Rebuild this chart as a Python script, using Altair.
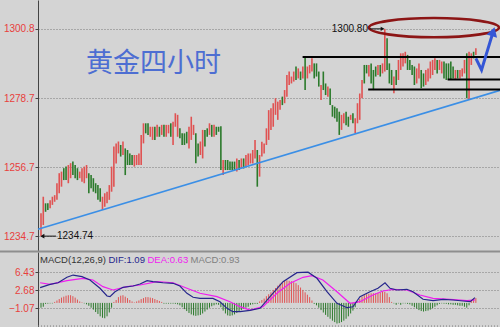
import altair as alt
import pandas as pd

# ---------------- data ----------------
bar_high = [1242.0, 1247.3, 1245.2, 1245.2, 1246.2, 1247.3, 1247.8, 1251.6, 1254.8, 1255.3,
            1256.4, 1256.9, 1257.4, 1258.0, 1258.5, 1257.4, 1256.4, 1255.3, 1256.4, 1256.9,
            1257.4, 1254.8, 1254.2, 1253.2, 1251.6, 1251.0, 1250.0, 1247.3, 1248.4, 1248.9,
            1251.0, 1256.9, 1263.3, 1264.3, 1264.9, 1263.8, 1264.9, 1262.7, 1262.2, 1261.1,
            1260.6, 1260.6, 1260.6, 1261.1, 1267.0, 1270.7, 1270.7, 1270.7, 1269.6, 1269.6,
            1269.6, 1270.2, 1269.6, 1270.2, 1270.2, 1270.2, 1270.2, 1270.7, 1271.2, 1273.9,
            1273.4, 1269.1, 1267.5, 1267.5, 1268.0, 1269.6, 1272.8, 1270.2, 1267.5, 1264.3,
            1264.9, 1268.6, 1268.6, 1269.1, 1270.7, 1270.2, 1270.2, 1269.6, 1269.6, 1269.8,
            1259.0, 1259.0, 1259.0, 1258.5, 1258.5, 1258.5, 1259.5, 1259.0, 1259.5, 1259.5,
            1260.6, 1261.1, 1261.1, 1262.2, 1265.4, 1262.2, 1260.6, 1264.8, 1264.3, 1269.1,
            1274.9, 1275.5, 1277.1, 1278.7, 1277.6, 1278.1, 1279.2, 1281.3, 1286.1, 1287.2,
            1285.6, 1287.2, 1288.8, 1288.2, 1287.2, 1288.8, 1291.9, 1288.8, 1289.3, 1291.4,
            1289.8, 1289.8, 1287.2, 1282.9, 1287.2, 1283.4, 1282.4, 1281.8, 1276.5, 1276.0,
            1275.5, 1274.4, 1273.4, 1273.9, 1274.4, 1272.8, 1273.4, 1273.9, 1272.3, 1277.1,
            1280.2, 1284.5, 1289.3, 1289.3, 1289.3, 1289.8, 1287.7, 1288.8, 1289.3, 1289.3,
            1289.8, 1300.8, 1297.8, 1289.8, 1287.7, 1285.6, 1287.7, 1290.9, 1293.0, 1293.0,
            1293.5, 1292.5, 1290.9, 1289.3, 1288.8, 1288.2, 1289.8, 1287.7, 1286.6, 1287.7,
            1288.2, 1290.4, 1290.9, 1291.4, 1290.9, 1290.9, 1290.4, 1290.4, 1289.8, 1289.8,
            1290.4, 1288.8, 1287.7, 1287.7, 1287.7, 1288.2, 1290.9, 1293.0, 1293.5, 1293.0,
            1293.5, 1294.6]
bar_low = [1234.74, 1238.3, 1242.5, 1243.1, 1243.6, 1244.7, 1245.7, 1246.3, 1248.4, 1250.5,
           1252.6, 1252.6, 1251.6, 1253.2, 1254.2, 1253.2, 1252.6, 1253.2, 1252.1, 1251.6,
           1253.2, 1248.4, 1250.0, 1248.9, 1248.4, 1246.3, 1245.7, 1243.1, 1244.1, 1245.2,
           1246.3, 1248.9, 1250.5, 1257.9, 1261.1, 1260.1, 1260.6, 1254.2, 1257.4, 1257.4,
           1257.4, 1256.9, 1257.4, 1257.4, 1257.4, 1264.3, 1267.5, 1267.0, 1266.4, 1265.4,
           1265.4, 1266.4, 1266.4, 1267.0, 1266.4, 1266.4, 1267.5, 1266.4, 1263.8, 1269.6,
           1266.4, 1265.9, 1263.8, 1263.8, 1264.3, 1262.7, 1265.4, 1267.0, 1258.0, 1260.1,
           1260.6, 1259.5, 1263.3, 1266.4, 1267.0, 1266.4, 1266.4, 1267.0, 1268.0, 1255.8,
           1254.2, 1255.8, 1255.8, 1255.8, 1255.8, 1255.8, 1255.3, 1255.8, 1256.3, 1256.3,
           1256.9, 1257.4, 1257.9, 1257.9, 1259.5, 1250.5, 1253.7, 1260.1, 1261.1, 1263.8,
           1265.4, 1268.6, 1269.6, 1273.4, 1271.8, 1275.0, 1276.5, 1277.1, 1279.2, 1282.9,
           1283.4, 1284.0, 1284.5, 1285.0, 1284.5, 1285.0, 1281.3, 1285.0, 1286.6, 1287.2,
           1285.0, 1285.6, 1282.4, 1278.1, 1281.3, 1279.7, 1279.2, 1276.5, 1272.8, 1272.3,
           1271.2, 1267.0, 1268.6, 1270.7, 1270.1, 1269.6, 1271.8, 1270.7, 1267.5, 1270.7,
           1271.8, 1278.7, 1283.4, 1286.6, 1285.6, 1283.4, 1281.3, 1285.6, 1286.1, 1285.6,
           1286.6, 1287.2, 1287.7, 1283.4, 1282.9, 1280.3, 1282.9, 1284.5, 1287.7, 1288.8,
           1289.8, 1287.7, 1287.7, 1286.1, 1282.9, 1283.4, 1285.0, 1281.9, 1282.4, 1282.9,
           1284.0, 1285.0, 1286.1, 1287.7, 1286.6, 1287.7, 1286.6, 1285.0, 1284.5, 1284.5,
           1284.5, 1285.0, 1284.5, 1285.0, 1285.0, 1285.6, 1286.6, 1278.7, 1278.1, 1289.3,
           1291.4, 1292.5]
bar_dir = list("UUDDUUUUUU" "DDUUDDDUUU" "UDDDDDDUUU" "UUUUUDUDDD" "DUUUUUDDUU"
               "DUDUDUUDUU" "UDDDDUUUDD" "UUDDUDUDDD" "UDDDDDUDUD" "UUUUUDUUUU"
               "UUUUUUDUUU" "UUDUDUDUUU" "DDDUDDUDDD" "DDUUDDUDUU" "UUDDUDDDUD"
               "UUDDDUDUUU" "UDDDDUUDDU" "UUUUDUUDDD" "DDUDUUUDUU" "DU")

macd_hist = [-1.0, -0.8, -0.2, -0.15, -0.1, -0.1, 0.2, 0.5, 0.8, 1.1,
             1.3, 1.5, 1.6, 1.6, 1.4, 1.1, 0.7, 0.3, 0.1, -0.1,
             -0.3, -0.6, -1.0, -1.4, -1.9, -2.3, -2.8, -3.1, -3.2, -2.8,
             -2.0, -1.0, 0.2, 0.6, 1.2, 1.5, 1.6, 1.3, 1.0, 0.6,
             0.3, 0.1, 0.3, 0.5, 0.8, 1.0, 1.2, 1.2, 1.1, 1.0,
             0.8, 0.6, 0.4, 0.2, -0.15, -0.15, -0.15, -0.15, -0.15, -0.2,
             -0.3, -0.5, -0.9, -1.3, -1.7, -2.1, -2.4, -2.6, -2.7, -2.6,
             -2.5, -2.2, -1.8, -1.4, -1.0, -0.7, -0.5, -0.3, -0.4, -0.9,
             -1.6, -2.2, -2.6, -2.7, -2.6, -2.4, -2.1, -1.8, -1.5, -1.2,
             -1.0, -0.8, -0.4, -0.3, -0.2, -0.2, 0.3, 0.6, 0.9, 1.4,
             1.8, 2.2, 2.7, 3.1, 3.6, 4.0, 4.3, 4.6, 4.7, 4.6,
             4.5, 4.3, 4.1, 3.7, 3.2, 2.7, 2.2, 1.7, 1.2, 0.5,
             -0.2, -0.5, -1.0, -1.5, -2.0, -2.5, -2.9, -3.3, -3.7, -4.0,
             -4.3, -4.2, -4.0, -3.7, -3.3, -2.8, -2.2, -1.6, -0.9, 0.3,
             0.8, 1.3, 1.6, 1.8, 1.9, 2.0, 2.0, 2.0, 2.1, 2.2,
             2.4, 2.3, 2.0, 1.2, 0.2, -0.1, -0.4, -0.1, -0.4, -0.1,
             -0.1, -0.2, -0.3, -0.6, -0.9, -1.2, -1.5, -1.7, -1.8, -1.7,
             -1.6, -1.4, -1.1, -0.8, -0.5, -0.2, -0.1, -0.15, -0.2, -0.3,
             -0.3, -0.4, -0.4, -0.5, -0.6, -0.6, -0.8, -1.0, -0.5, 0.4,
             0.9, 1.0]

dif_x = [-0.4, 4.0, 7.5, 11.4, 14.1, 18.0, 21.5, 25.9, 29.0, 30.3, 32.5, 36.0, 40.4, 43.5,
         46.6, 49.2, 53.6, 58.0, 61.0, 64.1, 66.8, 69.8, 75.5, 78.6, 81.7, 84.3, 87.4, 91.8,
         96.2, 100.6, 106.3, 112.4, 117.3, 121.2, 125.6, 130.0, 134.4, 137.0, 140.1, 144.5,
         148.0, 151.1, 153.3, 156.3, 160.7, 163.4, 167.8, 172.2, 176.6, 181.0, 185.4, 188.5, 190.6]
dif_v = [3.17, 3.87, 4.2, 5.33, 5.8, 5.46, 4.77, 3.04, 1.44, 1.29, 2.33, 3.25, 3.52, 3.94,
         4.63, 4.42, 4.2, 4.08, 3.52, 2.0, 1.17, 0.96, 0.94, 0.25, -1.13, -1.83, -1.83, -1.55,
         -1.13, 1.29, 4.42, 6.29, 6.4, 5.12, 2.33, -0.08, -1.0, -0.8, 1.29, 2.33,
         3.04, 4.2, 3.04, 2.69, 2.83, 2.33, 0.75, 0.46, 0.75, 0.6, 0.4, 0.25, 1.09]
dea_x = [-0.4, 4.0, 11.4, 18.4, 22.8, 27.2, 31.6, 37.8, 43.5, 50.9, 58.0, 64.1, 69.8, 77.3,
         83.0, 87.4, 91.8, 97.5, 103.6, 109.4, 115.1, 119.0, 123.8, 130.0, 135.7, 140.1,
         145.8, 150.2, 154.6, 160.7, 166.4, 172.2, 179.6, 187.1, 190.6]
dea_v = [4.2, 3.87, 4.63, 5.12, 4.77, 3.38, 2.69, 3.38, 3.73, 4.42, 4.2, 3.04, 2.0, 1.29,
         0.25, -0.79, -1.48, -0.79, 2.0, 4.08, 5.33, 5.67, 4.77, 2.33, -0.08, 0.25,
         1.65, 2.48, 2.83, 2.69, 1.65, 0.96, 0.75, 0.46, 0.63]

price_ticks = [1234.7, 1256.7, 1278.7, 1300.8]
macd_ticks = [6.43, 2.68, -1.07]
macd_low_grid = [-4.82]

trend_x = [-1.32, 201.6]
trend_p = [1236.9, 1281.2]
level_x0 = [114.9, 143.7, 178.6]
level_x1 = [201.6, 201.6, 201.6]
level_p = [1291.8, 1281.5, 1284.7]
oval_x = [172.6]
oval_p = [1301.2]
arrow_x = [191.0, 193.5, 198.6]
arrow_p = [1291.4, 1287.7, 1299.9]
high_label = "1300.80"
low_label = "1234.74"
title_text = "黄金四小时"
header_texts = ["MACD(12,26,9)", "DIF:1.09", "DEA:0.63", "MACD:0.93"]
header_colors = ["#333333", "#26268c", "#f01cf0", "#808080"]

# ---------------- scales & styles ----------------
X_DOMAIN = [-1.32, 201.6]
RED, GREEN = "#e05252", "#2b7a2b"
xs = alt.Scale(domain=X_DOMAIN, nice=False, zero=False)
ys_price = alt.Scale(domain=[1230, 1310], range=[251, 0], nice=False, zero=False)
ys_macd = alt.Scale(domain=[-5.02, 10.6], range=[327, 252], nice=False, zero=False)
color_scale = alt.Scale(domain=["U", "D"], range=[RED, GREEN])

price_axis = alt.Axis(values=price_ticks, format=".1f", title=None, orient="left",
                      grid=True, gridDash=[1, 2], gridColor="#7a7a7a", gridWidth=1)
macd_axis = alt.Axis(values=macd_ticks, format=".2f", title=None, orient="left",
                     grid=True, gridDash=[1, 2], gridColor="#7a7a7a", gridWidth=1)

def X(field):
    return alt.X(field, type="quantitative", scale=xs, axis=None)

def YP(field):
    return alt.Y(field, type="quantitative", scale=ys_price, axis=price_axis)

def YM(field):
    return alt.Y(field, type="quantitative", scale=ys_macd, axis=macd_axis)

n = len(bar_high)
bars_df = pd.DataFrame({"i": list(range(n)), "high": bar_high, "low": bar_low, "dir": bar_dir})
hist_df = pd.DataFrame({"i": list(range(len(macd_hist))), "v": macd_hist,
                        "z": [0.0] * len(macd_hist),
                        "dir": ["U" if v > 0 else "D" for v in macd_hist]})
dif_df = pd.DataFrame({"x": dif_x, "v": dif_v})
dea_df = pd.DataFrame({"x": dea_x, "v": dea_v})
trend_df = pd.DataFrame({"x": trend_x, "p": trend_p})
level_df = pd.DataFrame({"x0": level_x0, "x1": level_x1, "p": level_p})
oval_df = pd.DataFrame({"x": oval_x, "p": oval_p})
arrow_df = pd.DataFrame({"x": arrow_x, "p": arrow_p, "o": [0, 1, 2]})
head_df = arrow_df.tail(1)
hi_df = pd.DataFrame({"x": [143.6], "xa": [144.4], "xb": [150.0], "p": [max(bar_high)], "t": [high_label]})
lo_df = pd.DataFrame({"x": [7.0], "xa": [0.6], "xb": [6.6], "p": [min(bar_low)], "t": [low_label]})
one = pd.DataFrame({"a": [0]})
macd_grid_df = pd.DataFrame({"v": macd_low_grid})

ELLIPSE = ("M -1 0 C -1 -0.08 -0.552 -0.148 0 -0.148 C 0.552 -0.148 1 -0.08 1 0 "
           "C 1 0.08 0.552 0.148 0 0.148 C -0.552 0.148 -1 0.08 -1 0 Z")

# ---------------- price panel ----------------
price_bars = alt.Chart(bars_df).mark_rule(strokeWidth=1.6).encode(
    x=X("i"), y=YP("low"), y2="high:Q",
    color=alt.Color("dir:N", scale=color_scale, legend=None))
trend = alt.Chart(trend_df).mark_line(color="#3b8fe6", strokeWidth=1.6).encode(x=X("x"), y=YP("p"))
levels = alt.Chart(level_df).mark_rule(color="#000000", strokeWidth=2).encode(
    x=X("x0"), x2="x1:Q", y=YP("p"))
oval = alt.Chart(oval_df).mark_point(shape=ELLIPSE, size=16900, filled=False,
                                     color="#8c1515", strokeWidth=2.6, opacity=1).encode(
    x=X("x"), y=YP("p"))
arrow_line = alt.Chart(arrow_df).mark_line(color="#3456d6", strokeWidth=3).encode(
    x=X("x"), y=YP("p"), order="o:Q")
arrow_head = alt.Chart(head_df).mark_point(shape="triangle-up", angle=17, size=120,
                                           filled=True, color="#3456d6", opacity=1).encode(
    x=X("x"), y=YP("p"))
hi_text = alt.Chart(hi_df).mark_text(align="right", baseline="middle", fontSize=10,
                                     font="Liberation Sans", color="#111111").encode(
    x=X("x"), y=YP("p"), text="t:N")
hi_arrow = alt.Chart(hi_df).mark_rule(color="#111111", strokeWidth=1).encode(
    x=X("xa"), x2="xb:Q", y=YP("p"))
hi_head = alt.Chart(hi_df).mark_point(shape="triangle-right", size=18, filled=True,
                                      color="#111111", opacity=1).encode(x=X("xb"), y=YP("p"))
lo_text = alt.Chart(lo_df).mark_text(align="left", baseline="middle", fontSize=10,
                                     font="Liberation Sans", color="#111111").encode(
    x=X("x"), y=YP("p"), text="t:N")
lo_arrow = alt.Chart(lo_df).mark_rule(color="#111111", strokeWidth=1).encode(
    x=X("xa"), x2="xb:Q", y=YP("p"))
lo_head = alt.Chart(lo_df).mark_point(shape="triangle-left", size=22, filled=True,
                                      color="#111111", opacity=1).encode(x=X("xa"), y=YP("p"))
title = alt.Chart(pd.DataFrame({"t": [title_text]})).mark_text(
    align="left", baseline="alphabetic", fontSize=27, font="Noto Sans CJK SC",
    color="#4d6ed2").encode(x=alt.value(48), y=alt.value(72), text="t:N")
separator = alt.Chart(one).mark_rule(color="#8e8e8e", strokeWidth=2).encode(
    x=alt.value(-38), x2=alt.value(462), y=alt.value(251.5))

price_group = alt.layer(price_bars, trend, levels, oval, arrow_line, arrow_head,
                        hi_arrow, hi_head, hi_text, lo_arrow, lo_head, lo_text, title, separator)

# ---------------- MACD panel ----------------
hist = alt.Chart(hist_df).mark_rule(strokeWidth=1).encode(
    x=X("i"), y=YM("v"), y2="z:Q",
    color=alt.Color("dir:N", scale=color_scale, legend=None))
dif_line = alt.Chart(dif_df).mark_line(color="#26268c", strokeWidth=1.2).encode(x=X("x"), y=YM("v"))
dea_line = alt.Chart(dea_df).mark_line(color="#f01cf0", strokeWidth=1.2).encode(x=X("x"), y=YM("v"))
low_grid = alt.Chart(macd_grid_df).mark_rule(color="#7a7a7a", strokeDash=[1, 2]).encode(
    x=alt.value(0), x2=alt.value(462), y=YM("v"))

header_px = [2, 70.5, 109.5, 152.5]

def header(txt, px, col):
    return alt.Chart(pd.DataFrame({"t": [txt]})).mark_text(
        align="left", baseline="middle", fontSize=9.5, font="Liberation Sans", color=col
    ).encode(x=alt.value(px), y=alt.value(260), text="t:N")

headers = [header(t, p, c) for t, p, c in zip(header_texts, header_px, header_colors)]

macd_group = alt.layer(low_grid, hist, dea_line, dif_line, *headers)

chart = alt.layer(price_group, macd_group).resolve_scale(y="independent").properties(
    width=462, height=327,
    padding={"left": 38, "top": 0, "right": 0, "bottom": 0},
    autosize=alt.AutoSizeParams(type="none"),
    background="#d4d4d4",
).configure_view(stroke=None).configure_axis(
    labelColor="#e8403c", labelFontSize=10, labelFont="Liberation Sans",
    tickSize=3, tickColor="#444444", domainColor="#444444", labelPadding=1,
)

chart.save("out.html", embed_options={"renderer": "svg", "actions": False})
